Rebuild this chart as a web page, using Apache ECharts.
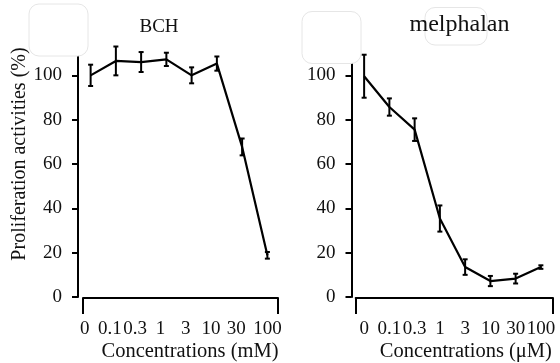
<!DOCTYPE html>
<html>
<head>
<meta charset="utf-8">
<script src="https://cdn.jsdelivr.net/npm/echarts@6/dist/echarts.min.js"></script>
<style>
  html, body { margin: 0; padding: 0; background: #fff; }
  #main { width: 560px; height: 363px; }
</style>
</head>
<body>
<div id="main"></div>
<script>
// concentrations (same tick labels for both panels)
var concLabels = ['0', '0.1', '0.3', '1', '3', '10', '30', '100'];
var yTicks = [0, 20, 40, 60, 80, 100, 120];

// BCH (mM)
var bchMean = [100, 106.5, 106, 107.2, 100, 105.3, 67.7, 18.8];
var bchErr = [4.8, 6.5, 4.5, 3, 3.6, 3.2, 3.8, 1.5];

// melphalan (uM)
var melMean = [99.6, 85.7, 75.5, 35.4, 13.5, 7.2, 8.3, 13.5];
var melErr = [9.7, 3.9, 5.1, 5.9, 3.5, 2.3, 2.2, 0.8];

var FONT = 'Liberation Serif';
var INK = '#111';

function errData(mean, err) {
  return mean.map(function (m, i) { return [i, m - err[i], m + err[i]]; });
}

// vertical bar with small caps
function renderErr(params, api) {
  var top = api.coord([api.value(0), api.value(2)]);
  var bot = api.coord([api.value(0), api.value(1)]);
  var c = 2.5;
  var st = { stroke: '#000', lineWidth: 2 };
  return {
    type: 'group',
    children: [
      { type: 'line', shape: { x1: top[0], y1: top[1], x2: bot[0], y2: bot[1] }, style: st },
      { type: 'line', shape: { x1: top[0] - c, y1: top[1], x2: top[0] + c, y2: top[1] }, style: st },
      { type: 'line', shape: { x1: bot[0] - c, y1: bot[1], x2: bot[0] + c, y2: bot[1] }, style: st }
    ]
  };
}

function catAxis(grid, shifted) {
  return {
    type: 'category', gridIndex: grid, data: concLabels, boundaryGap: true,
    axisLine: { show: false }, axisTick: { show: false },
    axisLabel: {
      interval: 0, margin: 23, color: INK, fontFamily: FONT, fontSize: 19,
      formatter: function (v, i) {
        return (shifted && i < concLabels.length - 1) ? '{s|' + v + '}' : '{n|' + v + '}';
      },
      rich: {
        s: { padding: [0, 12, 0, 0], fontFamily: FONT, fontSize: 19, color: INK },
        n: { fontFamily: FONT, fontSize: 19, color: INK }
      }
    }
  };
}

function bracketAxis(grid, name, shift) {
  return {
    type: 'value', gridIndex: grid, min: 0, max: 1, interval: 1,
    axisLine: { show: true, lineStyle: { color: '#000', width: 2 } },
    axisTick: { show: true, length: 16, lineStyle: { color: '#000', width: 2 } },
    axisLabel: { show: false }, splitLine: { show: false },
    name: name, nameLocation: 'middle', nameGap: 43,
    nameTextStyle: { color: INK, fontFamily: FONT, fontSize: 20.5, padding: [0, 0, 0, shift] }
  };
}

function valAxis(grid, name) {
  var ax = {
    type: 'value', gridIndex: grid, min: yTicks[0], max: yTicks[yTicks.length - 1],
    interval: yTicks[1] - yTicks[0],
    axisLine: { show: true, lineStyle: { color: '#000', width: 2 } },
    axisTick: { show: true, length: 6, lineStyle: { color: '#000', width: 2 } },
    axisLabel: { margin: 16, color: INK, fontFamily: FONT, fontSize: 19 },
    splitLine: { show: false }
  };
  if (name) {
    ax.name = name;
    ax.nameLocation = 'middle';
    ax.nameGap = 48;
    ax.nameTextStyle = { color: INK, fontFamily: FONT, fontSize: 20, padding: [0, 0, 0, 20] };
  }
  return ax;
}

var chart = echarts.init(document.getElementById('main'));

chart.setOption({
  animation: false,
  backgroundColor: '#fff',
  textStyle: { fontFamily: FONT, color: INK },
  title: [
    { text: 'BCH', left: 159, top: 18, textAlign: 'center', padding: 0, z: 10,
      textStyle: { color: INK, fontFamily: FONT, fontSize: 19, fontWeight: 'normal' } },
    { text: 'melphalan', left: 459.5, top: 13, textAlign: 'center', padding: 0, z: 10,
      textStyle: { color: INK, fontFamily: FONT, fontSize: 24, fontWeight: 'normal' } }
  ],
  grid: [
    { left: 78, top: 31, width: 202, height: 266 },
    { left: 351.5, top: 31, width: 202, height: 266 },
    { left: 83, top: 200, width: 195, height: 99 },
    { left: 355.7, top: 200, width: 197.3, height: 99 }
  ],
  xAxis: [
    catAxis(0, true),
    catAxis(1, false),
    bracketAxis(2, 'Concentrations (mM)', 19),
    bracketAxis(3, 'Concentrations (\u03bcM)', 23)
  ],
  yAxis: [
    valAxis(0, 'Proliferation activities (%)'),
    valAxis(1, null),
    { type: 'value', gridIndex: 2, show: false },
    { type: 'value', gridIndex: 3, show: false }
  ],
  graphic: [
    { type: 'rect', z: 5, shape: { x: 29, y: 4, width: 59, height: 52, r: 10 },
      style: { fill: '#fff', stroke: '#e6e6e6', lineWidth: 1 } },
    { type: 'rect', z: 5, shape: { x: 302, y: 11.5, width: 59, height: 52, r: 10 },
      style: { fill: '#fff', stroke: '#e6e6e6', lineWidth: 1 } },
    { type: 'rect', z: 5, shape: { x: 425, y: 7.5, width: 62, height: 37.5, r: 10 },
      style: { fill: '#fff', stroke: '#e6e6e6', lineWidth: 1 } }
  ],
  series: [
    { type: 'line', xAxisIndex: 0, yAxisIndex: 0, data: bchMean, symbol: 'none',
      lineStyle: { color: '#000', width: 2.2 } },
    { type: 'custom', xAxisIndex: 0, yAxisIndex: 0, data: errData(bchMean, bchErr),
      renderItem: renderErr, encode: { x: 0, y: [1, 2] } },
    { type: 'line', xAxisIndex: 1, yAxisIndex: 1, data: melMean, symbol: 'none',
      lineStyle: { color: '#000', width: 2.2 } },
    { type: 'custom', xAxisIndex: 1, yAxisIndex: 1, data: errData(melMean, melErr),
      renderItem: renderErr, encode: { x: 0, y: [1, 2] } }
  ]
});
</script>
</body>
</html>
